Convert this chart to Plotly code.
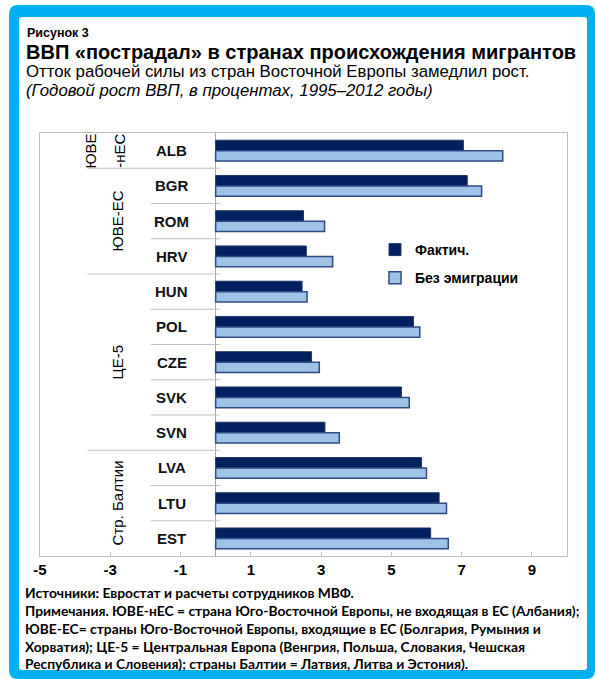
import plotly.graph_objects as go

# ---- data ----
countries = ["ALB", "BGR", "ROM", "HRV", "HUN", "POL", "CZE", "SVK", "SVN", "LVA", "LTU", "EST"]
actual = [7.05, 7.16, 2.50, 2.58, 2.46, 5.63, 2.73, 5.29, 3.11, 5.86, 6.36, 6.12]
no_emigration = [8.17, 7.57, 3.10, 3.33, 2.60, 5.81, 2.95, 5.51, 3.52, 6.00, 6.57, 6.62]
group_labels = [["ЮВЕ", "-нЕС"], ["ЮВЕ-ЕС"], ["ЦЕ-5"], ["Стр. Балтии"]]
group_sizes = [1, 3, 5, 3]
series_names = ["Фактич.", "Без эмиграции"]
tick_values = [-5, -3, -1, 1, 3, 5, 7, 9]
tick_labels = ["-5", "-3", "-1", "1", "3", "5", "7", "9"]

title_fig = "Рисунок 3"
title_main = "ВВП «пострадал» в странах происхождения мигрантов"
subtitle = "Отток рабочей силы из стран Восточной Европы замедлил рост."
subtitle2 = "(Годовой рост ВВП, в процентах, 1995–2012 годы)"
notes = [
    "Источники: Евростат и расчеты сотрудников МВФ.",
    "Примечания. ЮВЕ-нЕС = страна Юго-Восточной Европы, не входящая в ЕС (Албания);",
    "ЮВЕ-ЕС= страны Юго-Восточной Европы, входящие в ЕС (Болгария, Румыния и",
    "Хорватия); ЦЕ-5 = Центральная Европа (Венгрия, Польша, Словакия, Чешская",
    "Республика и Словения); страны Балтии = Латвия, Литва и Эстония).",
]

# ---- layout geometry (pixels) ----
W, H = 595, 679
L, R, T, B = 40, 567, 133, 556
PW, PH = R - L, B - T


def px(x):
    return (x - L) / PW


def py(y):
    return (B - y) / PH


def rounded_path(x0, y0, x1, y1, r):
    pts = [
        f"M {px(x0 + r)},{py(y0)}",
        f"L {px(x1 - r)},{py(y0)}",
        f"Q {px(x1)},{py(y0)} {px(x1)},{py(y0 + r)}",
        f"L {px(x1)},{py(y1 - r)}",
        f"Q {px(x1)},{py(y1)} {px(x1 - r)},{py(y1)}",
        f"L {px(x0 + r)},{py(y1)}",
        f"Q {px(x0)},{py(y1)} {px(x0)},{py(y1 - r)}",
        f"L {px(x0)},{py(y0 + r)}",
        f"Q {px(x0)},{py(y0)} {px(x0 + r)},{py(y0)}",
        "Z",
    ]
    return " ".join(pts)


ypos = list(range(len(countries)))
ARIAL = "Liberation Sans, Arial, sans-serif"
GRAY = "#BFBFBF"

fig = go.Figure()
fig.add_trace(go.Bar(
    y=ypos, x=actual, orientation="h", name=series_names[0], legendgroup="a",
    marker=dict(color="#002060", line=dict(color="#1F3864", width=1)),
))
fig.add_trace(go.Bar(
    y=ypos, x=no_emigration, orientation="h", name=series_names[1], legendgroup="b",
    marker=dict(color="#9DC3E6", line=dict(color="#2F4A86", width=1.5)),
))

shapes = [
    dict(type="path", xref="paper", yref="paper", path=rounded_path(9, 5, 595, 679, 9),
         fillcolor="#00B0F0", line=dict(width=0), layer="below"),
    dict(type="path", xref="paper", yref="paper", path=rounded_path(19, 17, 587, 670, 3),
         fillcolor="white", line=dict(width=0), layer="below"),
]

annotations = []
# category separators and group labels
idx = 0
x_small = -1.85
x_group = -3.65
for gi, (lbls, n) in enumerate(zip(group_labels, group_sizes)):
    start = idx
    end = idx + n
    for k in range(start + 1, end):
        shapes.append(dict(type="line", xref="x", yref="y", x0=x_small, x1=0.12,
                           y0=k - 0.5, y1=k - 0.5, line=dict(color=GRAY, width=1)))
    if end < len(countries):
        shapes.append(dict(type="line", xref="x", yref="y", x0=x_group, x1=0.12,
                           y0=end - 0.5, y1=end - 0.5, line=dict(color=GRAY, width=1)))
    yc = (start + end - 1) / 2
    if len(lbls) == 2:
        xs = [-3.55, -2.72]
    else:
        xs = [-2.8]
    for t, xx in zip(lbls, xs):
        annotations.append(dict(x=xx, y=yc, xref="x", yref="y", text=t, textangle=-90,
                                showarrow=False, font=dict(family=ARIAL, size=15, color="black")))
    idx = end

for i, c in enumerate(countries):
    annotations.append(dict(x=-1.25, y=i, xref="x", yref="y", text=f"<b>{c}</b>",
                            showarrow=False, font=dict(family=ARIAL, size=15, color="#111111")))

# titles
annotations += [
    dict(x=px(25), y=py(33), xref="paper", yref="paper", xanchor="left", yanchor="middle",
         text=f"<b>{title_fig}</b>", showarrow=False,
         font=dict(family="Liberation Sans Narrow, Liberation Sans", size=12.5, color="black")),
    dict(x=px(24), y=py(52.5), xref="paper", yref="paper", xanchor="left", yanchor="middle",
         text=f"<b>{title_main}</b>", showarrow=False,
         font=dict(family=ARIAL, size=20, color="black")),
    dict(x=px(24), y=py(71.5), xref="paper", yref="paper", xanchor="left", yanchor="middle",
         text=subtitle, showarrow=False, font=dict(family=ARIAL, size=16.8, color="black")),
    dict(x=px(24), y=py(90.5), xref="paper", yref="paper", xanchor="left", yanchor="middle",
         text=f"<i>{subtitle2}</i>", showarrow=False, font=dict(family=ARIAL, size=16.8, color="black")),
]
note_y = [592, 610, 628, 646, 663]
for t, yy in zip(notes, note_y):
    annotations.append(dict(x=px(23), y=py(yy), xref="paper", yref="paper", xanchor="left",
                            yanchor="middle", text=f"<b>{t}</b>", showarrow=False,
                            font=dict(family="Lato, sans-serif", size=13.8, color="black")))

fig.update_layout(
    width=W, height=H,
    margin=dict(l=L, r=W - R, t=T, b=H - B, pad=0),
    paper_bgcolor="white",
    plot_bgcolor="rgba(0,0,0,0)",
    barmode="group",
    bargap=0.41,
    bargroupgap=0,
    showlegend=True,
    legend=dict(x=px(375), y=py(234), xanchor="left", yanchor="top",
                font=dict(family=ARIAL, size=14, color="black", weight="bold"),
                bgcolor="rgba(0,0,0,0)", tracegroupgap=7, itemwidth=30),
    xaxis=dict(range=[-5, 10], tickvals=tick_values, ticktext=tick_labels, ticks="inside", ticklen=4,
               tickcolor=GRAY, showline=True, linecolor=GRAY, linewidth=1, mirror=True,
               showgrid=False, zeroline=True, zerolinecolor="#A6A6A6", zerolinewidth=1,
               tickfont=dict(family=ARIAL, size=15, color="black", weight="bold"), fixedrange=True),
    yaxis=dict(range=[len(countries) - 0.5, -0.5], showticklabels=False, ticks="",
               showline=True, linecolor=GRAY, linewidth=1, mirror=True, showgrid=False,
               zeroline=False, fixedrange=True),
    shapes=shapes,
    annotations=annotations,
)

fig.write_html("out.html", config={"displayModeBar": False},
               post_script="document.body.style.margin='0';")
